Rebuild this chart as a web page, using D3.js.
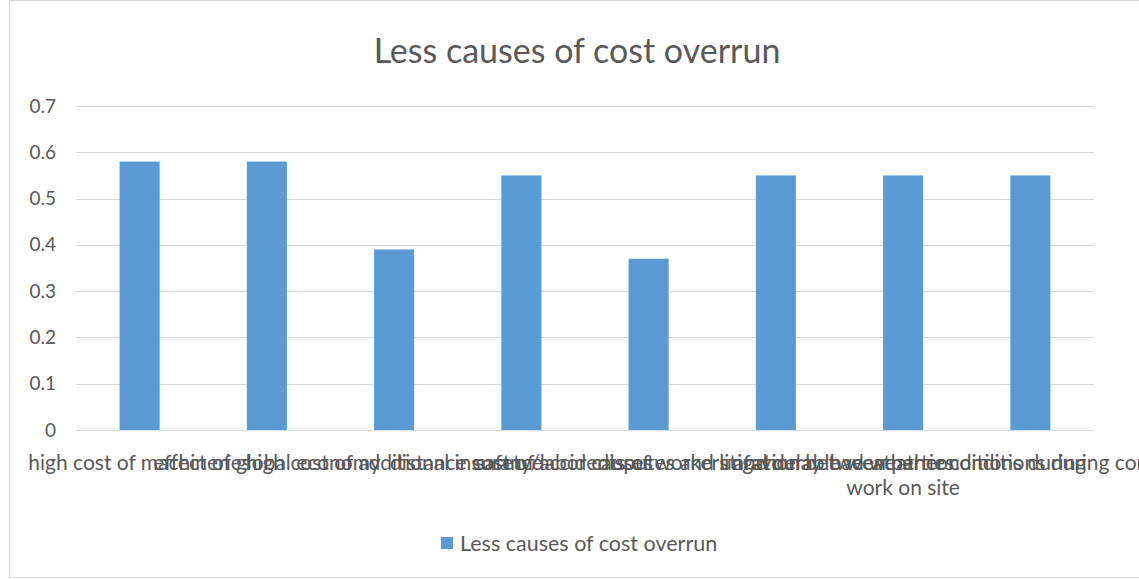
<!DOCTYPE html>
<html>
<head>
<meta charset="utf-8">
<script src="https://cdn.jsdelivr.net/npm/d3@7"></script>
<style>
  html, body { margin: 0; padding: 0; background: #fff; }
  svg { display: block; font-family: Lato, "Open Sans", sans-serif; }
</style>
</head>
<body>
<svg id="chart" width="1139" height="579"></svg>
<script>
const title = "Less causes of cost overrun";
const seriesName = "Less causes of cost overrun";
const categories = [
  ["high cost of machineries"],
  ["effect of global economy"],
  ["high cost of additional insurance"],
  ["distance cost of labor causes"],
  ["safety/accidents of workers and delay"],
  ["disputes and litigation between parties"],
  ["unfavourable weather conditions during", "work on site"],
  ["bad weather conditions during construction"]
];
const values = [0.58, 0.58, 0.39, 0.55, 0.37, 0.55, 0.55, 0.55];
const yTicks = [0, 0.1, 0.2, 0.3, 0.4, 0.5, 0.6, 0.7];

const svg = d3.select("#chart");
const textColor = "#595959";
const barColor = "#5B9BD5";

// chart border
svg.append("rect").attr("x", 9.5).attr("y", 0.5).attr("width", 1200).attr("height", 577)
  .attr("fill", "none").attr("stroke", "#D9D9D9");

const plot = { left: 76, right: 1094, top: 106, bottom: 430 };

const x = d3.scaleBand().domain(d3.range(categories.length))
  .range([plot.left, plot.right]).paddingInner(0.685).paddingOuter(0.3425);
const y = d3.scaleLinear().domain([0, 0.7]).range([plot.bottom, plot.top]);

// gridlines
svg.append("g").selectAll("line").data(yTicks).join("line")
  .attr("x1", plot.left).attr("x2", plot.right)
  .attr("y1", d => Math.round(y(d)) + 0.5).attr("y2", d => Math.round(y(d)) + 0.5)
  .attr("stroke", "#D9D9D9").attr("stroke-width", 1);

// y axis labels
const yAxis = d3.axisLeft(y).tickValues(yTicks).tickSize(0).tickPadding(0)
  .tickFormat(d => d === 0 ? "0" : d3.format(".1f")(d));
const yg = svg.append("g").attr("transform", `translate(${56},0)`).call(yAxis);
yg.select(".domain").remove();
yg.selectAll("text").attr("fill", textColor).style("font-size", "19px")
  .style("font-family", "Lato, 'Open Sans', sans-serif");

// bars
svg.append("g").selectAll("rect").data(values).join("rect")
  .attr("x", (d, i) => x(i)).attr("width", x.bandwidth())
  .attr("y", d => y(d)).attr("height", d => y(0) - y(d))
  .attr("fill", barColor);

// x axis baseline
svg.append("line").attr("x1", plot.left).attr("x2", plot.right)
  .attr("y1", Math.round(y(0)) + 0.5).attr("y2", Math.round(y(0)) + 0.5)
  .attr("stroke", "#D9D9D9");

// x labels
const xl = svg.append("g");
categories.forEach((lines, i) => {
  const cx = x(i) + x.bandwidth() / 2;
  const t = xl.append("text")
    .attr("x", cx)
    .attr("y", 470)
    .attr("text-anchor", "middle")
    .attr("fill", textColor)
    .style("font-size", "21px");
  lines.forEach((ln, j) => {
    t.append("tspan").attr("x", cx).attr("dy", j === 0 ? 0 : 25).text(ln);
  });
});

// title
svg.append("text").attr("x", 577).attr("y", 63).attr("text-anchor", "middle")
  .attr("fill", textColor).style("font-size", "34px").text(title);

// legend
svg.append("rect").attr("x", 441).attr("y", 537).attr("width", 12).attr("height", 12).attr("fill", barColor);
svg.append("text").attr("x", 460).attr("y", 551).attr("fill", textColor)
  .style("font-size", "21.5px").text(seriesName);
</script>
</body>
</html>
